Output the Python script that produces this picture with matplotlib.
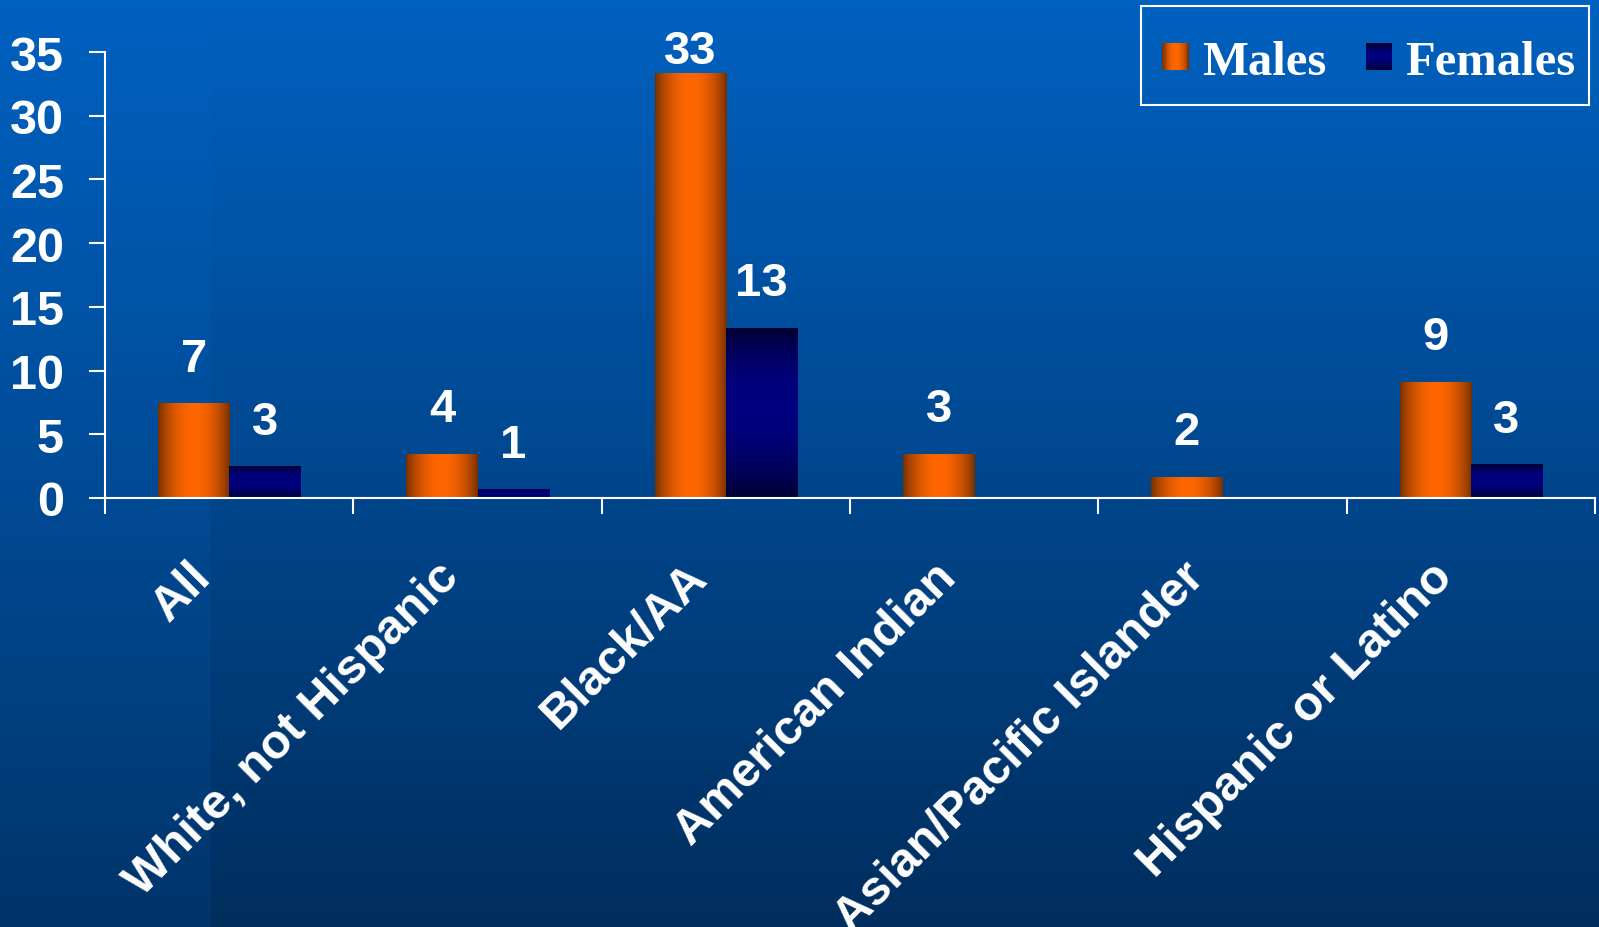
import matplotlib.pyplot as plt
import matplotlib.transforms as mtransforms
import numpy as np
from matplotlib.patches import Rectangle
from matplotlib.legend_handler import HandlerBase

# 数据
categories = ['All', 'White, not Hispanic', 'Black/AA', 'American Indian',
              'Asian/Pacific Islander', 'Hispanic or Latino']
males = [7.4, 3.45, 33.3, 3.45, 1.6, 9.1]
females = [2.45, 0.65, 13.3, 0.0, 0.0, 2.6]
male_labels = ['7', '4', '33', '3', '2', '9']
female_labels = ['3', '1', '13', '', '', '3']
yticks = [0, 5, 10, 15, 20, 25, 30, 35]

plt.rcParams['font.family'] = ['Liberation Sans', 'DejaVu Sans']
plt.rcParams['font.weight'] = 'bold'

ORANGE = np.array([255, 102, 0]) / 255
BROWN = np.array([118, 48, 0]) / 255
NAVY = np.array([0, 0, 128]) / 255
NIGHT = np.array([0, 0, 50]) / 255


def male_grad(n=64):
    # 横向渐变: 两边深棕, 中间亮橙
    t = np.linspace(0, 1, n)
    f = np.sin(np.pi * t) ** 0.8
    return BROWN + (ORANGE - BROWN) * f[:, None]


def female_grad(n=64):
    # 纵向渐变 (从下到上): 上下深, 中间偏上亮蓝
    t = np.linspace(0, 1, n)
    s = np.where(t < 0.56, t / 0.56 * 0.5, 0.5 + (t - 0.56) / 0.44 * 0.5)
    f = np.sin(np.pi * s) ** 0.8
    return NIGHT + (NAVY - NIGHT) * f[:, None]


fig = plt.figure(figsize=(15.99, 9.28), dpi=100)

# 背景渐变
bg = fig.add_axes([0, 0, 1, 1], zorder=-10)
bg.axis('off')
H, W = 232, 1599
ty = np.linspace(0, 1, H)[:, None]
top = np.array([0, 97, 192]) / 255
bot = np.array([0, 46, 94]) / 255
img = np.repeat((top + (bot - top) * ty[..., None]), W, axis=1)
band = np.arange(W) < 211
img[:, band, :] *= (1 + 0.12 * ty)[:, :, None]
bg.imshow(np.clip(img, 0, 1), extent=(0, 1, 0, 1), aspect='auto')
bg.set_xlim(0, 1)
bg.set_ylim(0, 1)

# 主坐标系
ax = fig.add_axes([105 / 1599, 1 - 499 / 928, 1490 / 1599, 446 / 928])
ax.set_facecolor('none')

x = np.arange(len(categories))
w = 0.286
bars_m = ax.bar(x - w / 2, males, w, color='none', edgecolor='none')
bars_f = ax.bar(x + w / 2, females, w, color='none', edgecolor='none')

mg = male_grad()[None, :, :]
fg = female_grad()[:, None, :]
for r in bars_m:
    if r.get_height() > 0:
        ax.imshow(mg, extent=(r.get_x(), r.get_x() + r.get_width(), 0, r.get_height()),
                  aspect='auto', origin='lower', zorder=2, interpolation='bilinear')
for r in bars_f:
    if r.get_height() > 0:
        ax.imshow(fg, extent=(r.get_x(), r.get_x() + r.get_width(), 0, r.get_height()),
                  aspect='auto', origin='lower', zorder=2, interpolation='bilinear')

# 数值标签
for r, lab in zip(bars_m, male_labels):
    if lab:
        ax.text(r.get_x() + r.get_width() / 2, min(r.get_height() + 2.6, 34.1), lab,
                ha='center', va='baseline', fontsize=34, color='white')
for r, lab in zip(bars_f, female_labels):
    if lab:
        ax.text(r.get_x() + r.get_width() / 2, min(r.get_height() + 2.6, 34.1), lab,
                ha='center', va='baseline', fontsize=34, color='white')

ax.set_xlim(-0.5, 5.5)
ax.set_ylim(0, 35)

# 坐标轴
ax.set_xticks(np.arange(-0.5, 6, 1))
ax.set_xticklabels([])
ax.set_yticks(yticks)
ax.tick_params(axis='x', direction='out', length=11.5, width=1.5, color='white')
ax.tick_params(axis='y', direction='out', length=11.5, width=1.5, colors='white',
               labelsize=35, pad=18)
for s in ['top', 'right']:
    ax.spines[s].set_visible(False)
for s in ['left', 'bottom']:
    ax.spines[s].set_color('white')
    ax.spines[s].set_linewidth(1.5)

# 类别标签 (45度)
trans = mtransforms.blended_transform_factory(ax.transData, ax.transAxes)
for i, c in enumerate(categories):
    ax.text(i - 0.038, -0.125, c, transform=trans, rotation=45, ha='right', va='top',
            fontsize=35, color='white')


# 图例 (渐变色块)
class GradHandler(HandlerBase):
    def __init__(self, colors, vertical):
        super().__init__()
        self.colors = colors
        self.vertical = vertical

    def create_artists(self, legend, orig_handle, xdescent, ydescent, width, height,
                       fontsize, trans):
        n = len(self.colors)
        side = width
        y0 = -ydescent + (height - side) / 2
        arts = []
        for k, c in enumerate(self.colors):
            if self.vertical:
                rect = Rectangle((-xdescent, y0 + side * k / n), side, side / n * 1.05)
            else:
                rect = Rectangle((-xdescent + side * k / n, y0), side / n * 1.05, side)
            rect.set_facecolor(c)
            rect.set_edgecolor('none')
            rect.set_transform(trans)
            arts.append(rect)
        return arts


h_m = Rectangle((0, 0), 1, 1)
h_f = Rectangle((0, 0), 1, 1)
leg = ax.legend([h_m, h_f], ['Males', 'Females'],
                handler_map={h_m: GradHandler(male_grad(24), False),
                             h_f: GradHandler(female_grad(24), True)},
                loc='center', bbox_to_anchor=(1369 / 1599, 1 - 62 / 928),
                bbox_transform=fig.transFigure, borderaxespad=0, ncol=2,
                prop={'family': 'Liberation Serif', 'weight': 'bold', 'size': 35},
                labelcolor='white', handlelength=0.55, handleheight=0.8,
                handletextpad=0.27, columnspacing=0.8, borderpad=0.0,
                frameon=False)

# 图例外框
fig.add_artist(Rectangle((1141 / 1599, 1 - 106 / 928), 448 / 1599, 99 / 928,
                         transform=fig.transFigure, facecolor='none',
                         edgecolor='white', linewidth=1.5))

plt.savefig('out.png', dpi=100)
